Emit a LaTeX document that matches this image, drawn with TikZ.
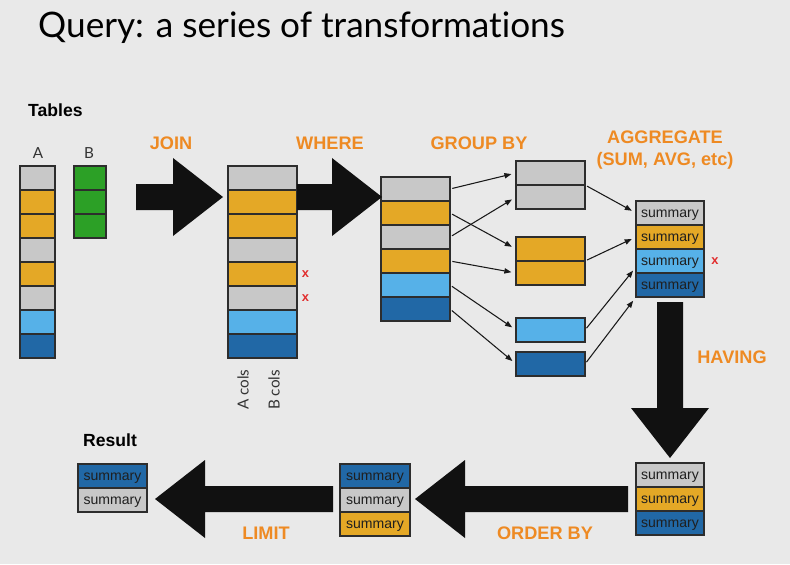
\documentclass[tikz,border=0pt]{standalone}
\usepackage{fontspec}
\setmainfont{Liberation Sans}
\newfontfamily\titlefont[Ligatures=NoCommon]{Lato}
\usetikzlibrary{arrows.meta,calc,positioning}
\definecolor{bgcol}{RGB}{233,233,233}
\definecolor{cgray}{RGB}{200,200,200}
\definecolor{corange}{RGB}{228,168,38}
\definecolor{clblue}{RGB}{86,177,232}
\definecolor{cdblue}{RGB}{33,104,166}
\definecolor{cgreen}{RGB}{44,160,38}
\definecolor{lblorange}{RGB}{238,138,35}
\definecolor{arrowblack}{RGB}{17,17,17}
\definecolor{rowline}{RGB}{45,45,45}
\definecolor{xred}{RGB}{225,45,45}
\tikzset{
    cell/.style={draw=rowline, line width=0.9pt, anchor=north west, inner sep=0pt, outer sep=0pt,
        minimum width=#1*0.03cm, minimum height=0.72cm},
    cell/.default=69,
    summ/.style={cell=#1, font=\fontsize{12}{12}\selectfont, text=black!88,
        text height=0.8em, text depth=0pt},
    op/.style={font=\bfseries\fontsize{15.5}{17}\selectfont, text=lblorange, inner sep=0pt},
    hdr/.style={font=\bfseries\fontsize{15}{17}\selectfont, inner sep=0pt, anchor=west},
    thin/.style={font=\titlefont\fontsize{13}{14}\selectfont, text=black!80, inner sep=0pt},
    redx/.style={font=\bfseries\fontsize{11}{11}\selectfont, text=xred, inner sep=0pt},
    flow/.style={-{Triangle[length=6pt,width=4.5pt]}, line width=0.9pt, black!90,
        shorten <=2pt, shorten >=4pt}
}
% block arrow from #1 to tip #2
\newcommand\blockarrow[2]{%
    \coordinate (hb) at ($(#2)!1.5cm!(#1)$);
    \fill[arrowblack] ($(#1)!0.39cm!90:(#2)$) -- ($(hb)!0.39cm!90:(#2)$) -- ($(hb)!1.17cm!90:(#2)$)
        -- (#2) -- ($(hb)!1.17cm!-90:(#2)$) -- ($(hb)!0.39cm!-90:(#2)$) -- ($(#1)!0.39cm!-90:(#2)$) -- cycle;
}
\begin{document}
\begin{tikzpicture}[x=0.03cm, y=-0.03cm]
    \fill[bgcol] (0,0) rectangle (790,564);
    \node[anchor=base west, inner sep=0pt, font=\titlefont\fontsize{30}{32}\selectfont] (title) at (38,38) {Query: a series of transformations};

    % input tables
    \node[hdr] (tables) at (28,110) {Tables};
    \node[thin] (lA) at (38,153) {A};
    \node[thin] (lB) at (89,153) {B};
    \begin{scope}[shift={(20,166)}]
    \foreach \c [count=\i] in {cgray,corange,corange,cgray,corange,cgray,clblue,cdblue}
        \node[cell=35, fill=\c] (a\i) at (0,{24*(\i-1)}) {};
    \end{scope}
    \begin{scope}[shift={(74,166)}]
    \foreach \i in {1,2,3}
        \node[cell=32, fill=cgreen] (b\i) at (0,{24*(\i-1)}) {};
    \end{scope}

    % joined table
    \begin{scope}[shift={(228,166)}]
    \foreach \c [count=\i] in {cgray,corange,corange,cgray,corange,cgray,clblue,cdblue}
        \node[cell=69, fill=\c] (j\i) at (0,{24*(\i-1)}) {};
    \end{scope}
    \node[redx, right=4pt of j5] (x1) {x};
    \node[redx, right=4pt of j6] (x2) {x};
    \node[thin, rotate=90, anchor=west] (acols) at (243,410) {A cols};
    \node[thin, rotate=90, anchor=west] (bcols) at (274,410) {B cols};

    % group by
    \begin{scope}[shift={(381,177)}]
    \foreach \c [count=\i] in {cgray,corange,cgray,corange,clblue,cdblue}
        \node[cell=69, fill=\c] (g\i) at (0,{24*(\i-1)}) {};
    \end{scope}
    \node[cell=69, fill=cgray] (s1) at (516,161) {};
    \node[cell=69, fill=cgray] (s2) at (516,185) {};
    \node[cell=69, fill=corange] (s3) at (516,237) {};
    \node[cell=69, fill=corange] (s4) at (516,261) {};
    \node[cell=69, fill=clblue] (s5) at (516,318) {};
    \node[cell=69, fill=cdblue] (s6) at (516,352) {};
    \draw[flow] (g1.east) -- (s1.west);
    \draw[flow] (g2.east) -- (s3.west);
    \draw[flow] (g3.east) -- (s2.west);
    \draw[flow] (g4.east) -- (s4.west);
    \draw[flow] (g5.east) -- (s5.west);
    \draw[flow] (g6.east) -- (s6.west);

    % aggregate
    \begin{scope}[shift={(636,201)}]
    \foreach \c [count=\i] in {cgray,corange,clblue,cdblue}
        \node[summ=68, fill=\c] (m\i) at (0,{24*(\i-1)}) {summary};
    \end{scope}
    \node[redx, right=6pt of m3] (x3) {x};
    \draw[flow] (s1.south east) -- (m1.west);
    \draw[flow] (s3.south east) -- (m2.west);
    \draw[flow] (s5.east) -- ($(m3.west)!0.5!(m3.south west)$);
    \draw[flow] (s6.east) -- (m4.south west);

    % having, order by, limit
    \begin{scope}[shift={(636,463)}]
    \foreach \c [count=\i] in {cgray,corange,cdblue}
        \node[summ=68, fill=\c] (h\i) at (0,{24*(\i-1)}) {summary};
    \end{scope}
    \begin{scope}[shift={(340,464)}]
    \foreach \c [count=\i] in {cdblue,cgray,corange}
        \node[summ=70, fill=\c] (o\i) at (0,{24*(\i-1)}) {summary};
    \end{scope}
    \node[hdr] (result) at (83,440) {Result};
    \begin{scope}[shift={(78,464)}]
    \foreach \c [count=\i] in {cdblue,cgray}
        \node[summ=69, fill=\c] (r\i) at (0,{24*(\i-1)}) {summary};
    \end{scope}

    % big arrows
    \coordinate (joinS) at (136,197);
    \coordinate (joinT) at (223,197);
    \coordinate (whereS) at (j1.east |- joinT);
    \coordinate (whereT) at (382,197);
    \coordinate (havS) at (670,302);
    \coordinate (havT) at (670,458);
    \coordinate (ordS) at (628,499);
    \coordinate (ordT) at (415,499);
    \coordinate (limS) at (333,499);
    \coordinate (limT) at (155,499);
    \blockarrow{joinS}{joinT}
    \blockarrow{whereS}{whereT}
    \blockarrow{havS}{havT}
    \blockarrow{ordS}{ordT}
    \blockarrow{limS}{limT}

    % operation labels
    \node[op] (join) at (171,143) {JOIN};
    \node[op] (where) at (330,143) {WHERE};
    \node[op] (groupby) at (479,143) {GROUP BY};
    \node[op] (agg) at (665,137) {AGGREGATE};
    \node[op] (aggfn) at (665,161) {(SUM, AVG, etc)};
    \node[op] (having) at (732,357) {HAVING};
    \node[op] (orderby) at (545,533) {ORDER BY};
    \node[op] (limit) at (266,533) {LIMIT};
\end{tikzpicture}
\end{document}
